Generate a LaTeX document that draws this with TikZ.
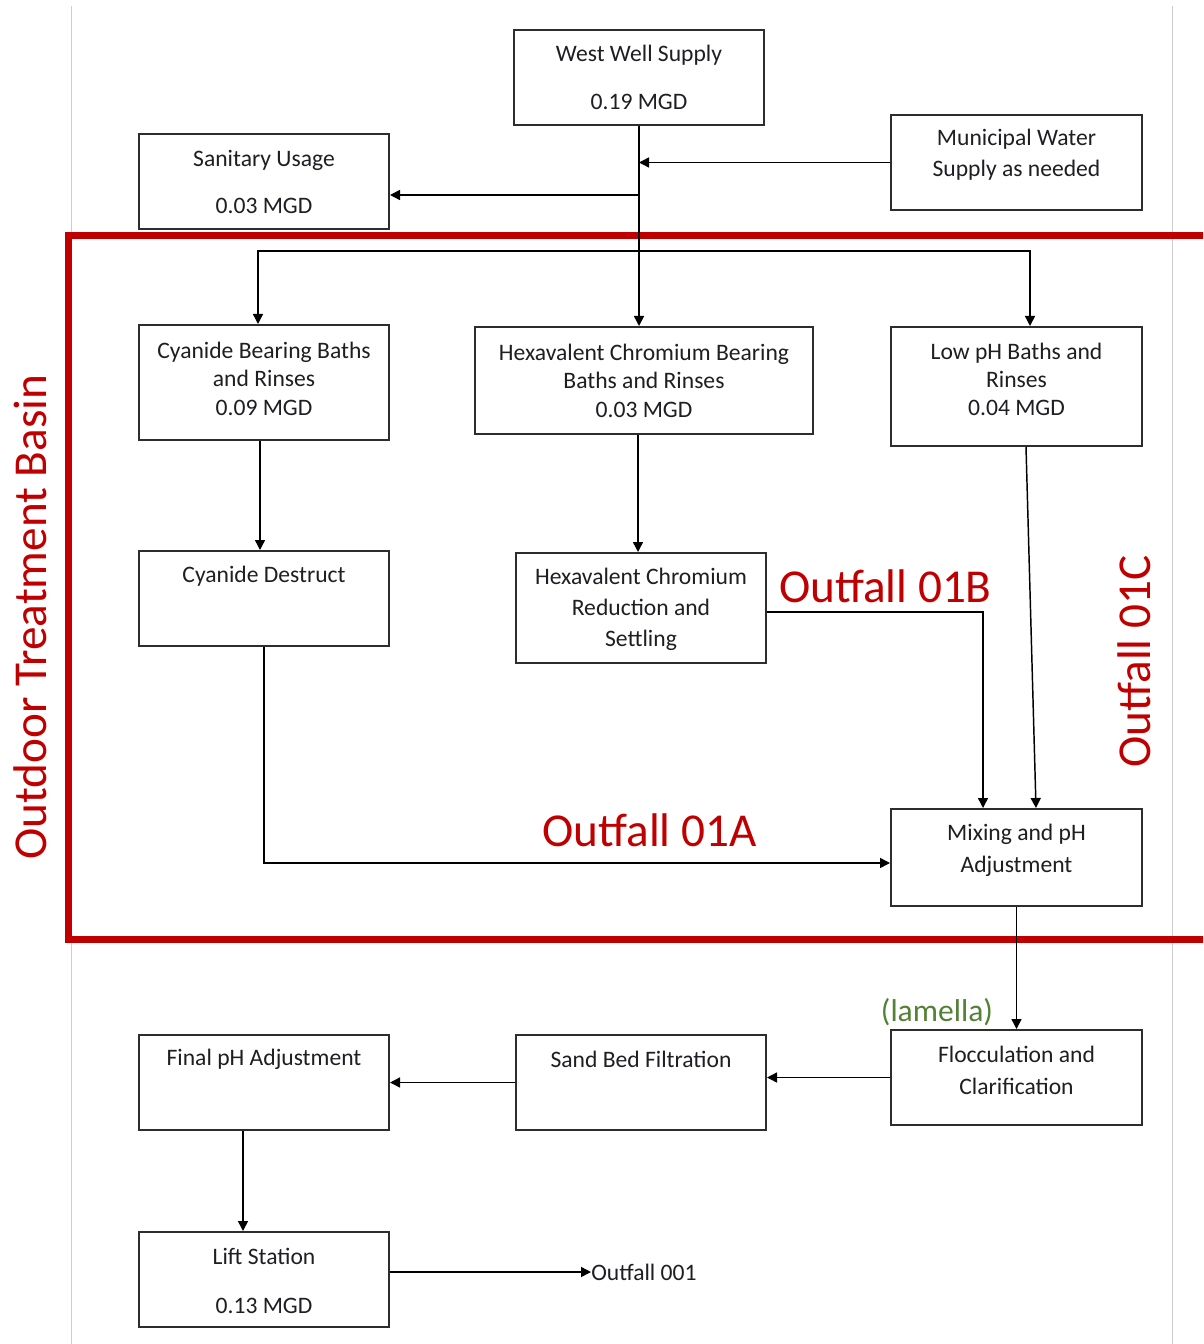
\documentclass[tikz,border=0pt]{standalone}
\usepackage{fontspec}
\setmainfont{Carlito}
\usetikzlibrary{arrows.meta,calc,fit}
\definecolor{basinred}{RGB}{192,0,0}
\definecolor{lamgreen}{RGB}{84,130,53}
\definecolor{boxline}{RGB}{45,45,45}
\definecolor{textc}{RGB}{30,30,35}
\definecolor{margin}{RGB}{205,205,205}
\tikzset{
  procbox/.style={draw=boxline, line width=1.5pt, inner sep=0pt, fill=white},
  txt/.style={inner sep=0pt, align=center, text=textc},
  arr/.style={draw=black, line width=1.1pt, -{Triangle[length=7.5pt,width=7.5pt]}},
  redlbl/.style={inner sep=0pt, text=basinred, font=\fontsize{35.4}{40}\selectfont},
  marginline/.style={draw=margin, line width=0.75pt}
}
\newcommand{\lead}[1]{\fontsize{17.7}{#1}\selectfont}
\begin{document}
\begin{tikzpicture}[x=0.75pt,y=-0.75pt]
\useasboundingbox (0,0) rectangle (1203,1344);
\clip (0,0) rectangle (1203,1344);
\fill[white] (0,0) rectangle (1203,1344);
% page margin lines
\draw[marginline] (71,6) -- (71,1344);
\draw[marginline] (1172,6) -- (1172,1344);
% red basin outline
\draw[draw=basinred, line width=5.25pt] (1220,236) -- (68,236) -- (68,939) -- (1220,939);

% boxes
\node[procbox, fit={(514,30) (764,125)}] (ws) {};
\node[procbox, fit={(891,115) (1142,210)}] (mun) {};
\node[procbox, fit={(139,134) (389,229)}] (san) {};
\node[procbox, fit={(139,325) (389,440)}] (cyb) {};
\node[procbox, fit={(475,327) (813,434)}] (hxb) {};
\node[procbox, fit={(891,327) (1142,446)}] (lph) {};
\node[procbox, fit={(139,551) (389,646)}] (cyd) {};
\node[procbox, fit={(516,553) (766,663)}] (hxr) {};
\node[procbox, fit={(891,809) (1142,906)}] (mix) {};
\node[procbox, fit={(891,1030) (1142,1125)}] (flc) {};
\node[procbox, fit={(516,1035) (766,1130)}] (snd) {};
\node[procbox, fit={(139,1035) (389,1130)}] (fph) {};
\node[procbox, fit={(139,1232) (389,1327)}] (lft) {};

% box texts
\node[txt, font=\lead{36}] (ws-t) at (639,77) {West Well Supply\\0.19 MGD};
\node[txt, font=\lead{23.25}] (mun-t) at (1016.5,154.5) {Municipal Water\\Supply as needed};
\node[txt, font=\lead{35.25}] (san-t) at (264,181.5) {Sanitary Usage\\0.03 MGD};
\node[txt, font=\lead{21.4}] (cyb-t) at (264,378.5) {Cyanide Bearing Baths\\and Rinses\\0.09 MGD};
\node[txt, font=\lead{21.4}] (hxb-t) at (644,380.5) {Hexavalent Chromium Bearing\\Baths and Rinses\\0.03 MGD};
\node[txt, font=\lead{21}] (lph-t) at (1016.5,379) {Low pH Baths and\\Rinses\\0.04 MGD};
\node[txt, font=\lead{21}] (cyd-t) at (264,576) {Cyanide Destruct};
\node[txt, font=\lead{23.25}] (hxr-t) at (641,609) {Hexavalent Chromium\\Reduction and\\Settling};
\node[txt, font=\lead{24}] (mix-t) at (1016.5,850) {Mixing and pH\\Adjustment};
\node[txt, font=\lead{24}] (flc-t) at (1016.5,1070) {Flocculation and\\Clarification};
\node[txt, font=\lead{21}] (snd-t) at (641,1059) {Sand Bed Filtration};
\node[txt, font=\lead{21}] (fph-t) at (264,1059) {Final pH Adjustment};
\node[txt, font=\lead{36.75}] (lft-t) at (264,1280.5) {Lift Station\\0.13 MGD};
\node[txt, font=\lead{21}, anchor=west] (o001) at (591,1272) {Outfall 001};

% red and green labels
\node[redlbl] (o1b) at (885.5,586) {Outfall 01B};
\node[redlbl] (o1a) at (649.5,830) {Outfall 01A};
\node[redlbl, rotate=90] (o1c) at (1134.5,661.5) {Outfall 01C};
\node[redlbl, rotate=90] (otb) at (30.5,617) {Outdoor Treatment Basin};
\node[inner sep=0pt, text=lamgreen, font=\fontsize{23.7}{28}\selectfont] (lam) at (937,1012) {(lamella)};

% junction coordinates
\coordinate (j1) at (ws.south |- mun.west);
\coordinate (j2) at ($(ws.south |- san.east)+(0,13.5)$);
\coordinate (j3) at ($(ws.south)+(0,125)$);

% connectors
\draw[arr] (ws.south) -- (ws.south |- hxb.north);
\draw[arr] (mun.west) -- (j1);
\draw[arr] (j2) -- (j2 -| san.east);
\draw[arr] (j3) -| ($(cyb.north)+(-6,0)$);
\draw[arr] (j3) -| ($(lph.north)+(13.5,0)$);
\draw[arr] ($(cyb.south)+(-4,0)$) -- ($(cyd.north)+(-4,0)$);
\draw[arr] ($(hxb.south)+(-6,0)$) -- ($(hxr.north)+(-3,0)$);
\draw[arr] ($(hxr.east)+(0,4)$) -| ($(mix.north)+(-33.5,0)$);
\draw[arr] ($(lph.south)+(9.5,0)$) -- ($(mix.north)+(19.5,0)$);
\draw[arr] (cyd.south) |- ($(mix.west)+(0,5.5)$);
\draw[arr] (mix.south) -- (flc.north);
\draw[arr] (flc.west) -- (flc.west -| snd.east);
\draw[arr] (snd.west) -- (snd.west -| fph.east);
\draw[arr] ($(fph.south)+(-21,0)$) -- ($(lft.north)+(-21,0)$);
\draw[arr] ($(lft.east)+(0,-7.5)$) -- (o001.west);
\end{tikzpicture}
\end{document}
